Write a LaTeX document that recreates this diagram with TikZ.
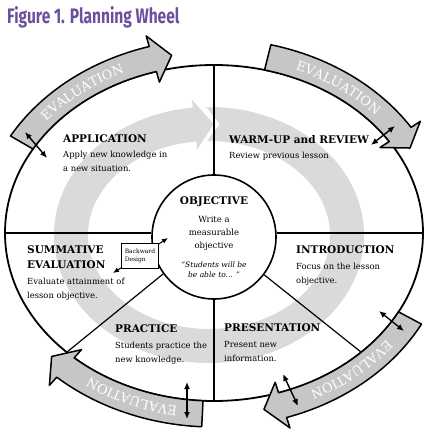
\documentclass[tikz,border=0pt]{standalone}
\usepackage{fontspec}
\setmainfont{DejaVu Serif}
\newfontfamily\titlefont[FakeStretch=0.74]{Fira Sans}
\usetikzlibrary{arrows.meta}
\usetikzlibrary{shapes.geometric}
\usetikzlibrary{decorations.text}

\definecolor{titlepurple}{RGB}{108,80,156}
\definecolor{evalgray}{RGB}{196,198,200}
\definecolor{ringgray}{RGB}{217,218,219}
\newcommand{\sectorhead}[1]{{\bfseries\fontsize{10.5}{14}\selectfont #1}}

\begin{document}
\begin{tikzpicture}[x=1pt,y=1pt,
  sector/.style={anchor=north west,inner sep=0,align=left,font=\fontsize{8.4}{14}\selectfont},
  wheelline/.style={line width=1.2pt},
  evalband/.style={draw=black,line width=1.5pt,fill=evalgray,line join=round},
  dbl/.style={{Latex[length=7pt,width=6pt]}-{Latex[length=7pt,width=6pt]},line width=1.4pt}]
\fill [white] (-214,-206) rectangle (218,233);
\useasboundingbox (-214,-206) rectangle (218,233);
% gray cycle behind the sectors
\fill [ringgray] ({-5+155*cos(91)},{-2+128*sin(91)})
  arc[start angle=91, end angle=-264, x radius=155, y radius=128]
  -- ({-5+163*cos(-264)},{-2+136*sin(-264)})
  -- ({-5+138*cos(-272)},{-2+111*sin(-272)})
  -- ({-5+113*cos(-264)},{-2+86*sin(-264)})
  -- ({-5+121*cos(-264)},{-2+94*sin(-264)})
  arc[start angle=-264, end angle=91, x radius=121, y radius=94]
  -- ({-5+138*cos(85.5)},{-2+111*sin(85.5)})
  -- cycle;
\node at (0, 0) (wheel) [ellipse,draw,line width=1.8pt,minimum width=418,minimum height=336,inner sep=0] {};
\node at (0,-4) (obj) [circle,draw,line width=1.6pt,minimum size=124,inner sep=0,align=center,
  font=\fontsize{8.5}{13}\selectfont]
  {\sectorhead{OBJECTIVE}\\[5pt] Write a\\ measurable\\ objective\\[6pt]
   {\itshape\fontsize{7.5}{10}\selectfont ``Students will be}\\[-3pt]
   {\itshape\fontsize{7.5}{10}\selectfont be able to... ''}};
\draw [wheelline] (wheel.north) -- (obj.north);
\draw [wheelline] (obj.south) -- (wheel.south);
\draw [wheelline] (wheel.west) -- (wheel.west -| obj.west);
\draw [wheelline] (wheel.east) -- (wheel.east -| obj.east);
\draw [wheelline] (obj.216) -- (wheel.219);
\draw [wheelline] (obj.323) -- (wheel.321);
% evaluation arrows round the wheel
\foreach \a/\b in {150/101, 76/28, -28/-77, -93/-137} {
  \pgfmathsetmacro{\c}{\b+5}
  \draw [evalband] ({235*cos(\a)},{194*sin(\a)})
    arc[start angle=\a, end angle=\c, x radius=235, y radius=194]
    -- ({246*cos(\c)},{205*sin(\c)})
    -- ({222*cos(\b)},{181*sin(\b)})
    -- ({198*cos(\c)},{157*sin(\c)})
    -- ({209*cos(\c)},{168*sin(\c)})
    arc[start angle=\c, end angle=\a, x radius=209, y radius=168]
    -- cycle;
  \path [decorate, decoration={text along path, text align=center,
      text={|\color{white}\fontsize{13}{13}\selectfont|EVALUATION}}]
    ({217*cos(\a)},{176*sin(\a)})
    arc[start angle=\a, end angle=\c, x radius=217, y radius=176];
}
\foreach \n/\px/\py/\qx/\qy in {1/-189/101/-167/75, 2/181/107/157/88, 3/165/-78/190/-98,
    4/69/-141/84/-173, 5/-27/-149/-27/-186} {
  \coordinate (e\n a) at (\px,\py);
  \coordinate (e\n b) at (\qx,\qy);
  \draw [dbl] (e\n a) -- (e\n b);
}
\node at (-207,227) (title) [anchor=north west,inner sep=0,text=titlepurple,
  font=\titlefont\bfseries\fontsize{21}{21}\selectfont] {Figure 1. Planning Wheel};
\node at (-151, 98) (application) [sector] {\sectorhead{APPLICATION}\\[1pt] Apply new knowledge in\\ a new situation.};
\node at (  15, 98) (warmup) [sector] {\sectorhead{WARM-UP and REVIEW}\\[1pt] Review previous lesson};
\node at (-187,-13) (summative) [sector] {\sectorhead{SUMMATIVE}\\[1pt] \sectorhead{EVALUATION}\\[2pt] Evaluate attainment of\\ lesson objective.};
\node at (  82,-13) (introduction) [sector] {\sectorhead{INTRODUCTION}\\[2pt] Focus on the lesson\\ objective.};
\node at ( -99,-92) (practice) [sector] {\sectorhead{PRACTICE}\\[2pt] Students practice the\\ new knowledge.};
\node at (  10,-91) (presentation) [sector] {\sectorhead{PRESENTATION}\\[2pt] Present new\\ information.};
% backward design link
\coordinate (bdl) at (-101,-40);
\coordinate (bdr) at (-46,-5);
\node at (-74,-23) (backward) [draw,fill=white,line width=0.8pt,minimum width=37,minimum height=25,
  inner sep=1pt,align=left,font=\fontsize{6}{8}\selectfont] {Backward\\Design};
\draw [-{Latex[length=6pt,width=5pt]},line width=1pt] (backward) -- (bdl);
\draw [-{Latex[length=6pt,width=5pt]},line width=1pt] (backward) -- (bdr);
\end{tikzpicture}
\end{document}
